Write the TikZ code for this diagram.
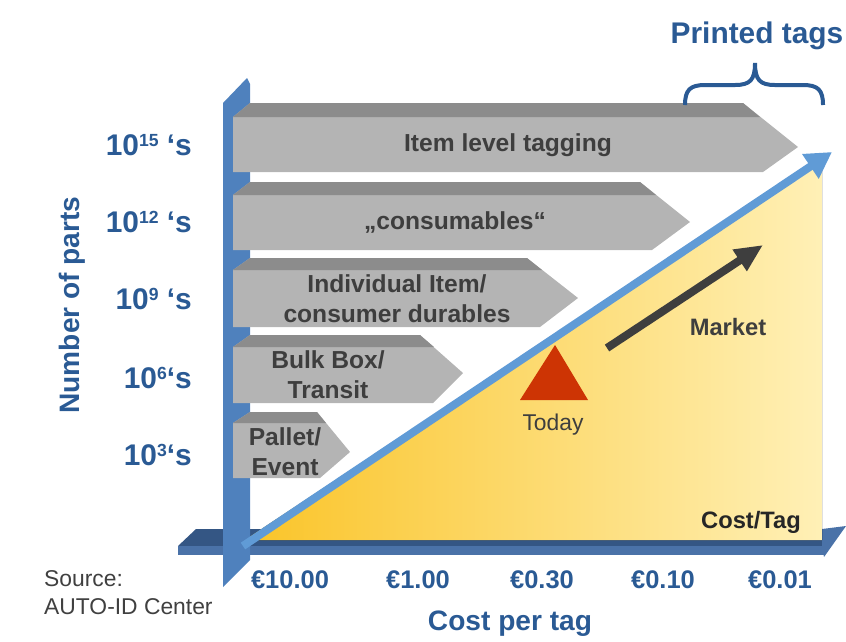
\documentclass[tikz,border=0pt]{standalone}
\usepackage{fontspec}
\setmainfont{Liberation Sans}
\usepackage{tikz}
\usetikzlibrary{arrows.meta}
\definecolor{axisblue}{RGB}{79,129,189}
\definecolor{axistop}{RGB}{52,86,132}
\definecolor{axisfront}{RGB}{74,114,168}
\definecolor{trendblue}{RGB}{96,155,214}
\definecolor{labelblue}{RGB}{42,90,148}
\definecolor{barface}{RGB}{180,180,180}
\definecolor{bartop}{RGB}{140,140,140}
\definecolor{bartext}{RGB}{62,62,62}
\definecolor{costlow}{RGB}{250,196,40}
\definecolor{costhigh}{RGB}{255,240,182}
\definecolor{todayred}{RGB}{205,52,4}
% small raised exponent
\newcommand{\pexp}[1]{\raisebox{5.2pt}{\fontsize{10}{10}\selectfont #1}}

\begin{document}
\begin{tikzpicture}[x=0.2mm, y=-0.2mm,
    barlabel/.style={font=\fontsize{14}{17}\selectfont\bfseries, text=bartext, align=center},
    partlabel/.style={font=\fontsize{17}{20}\selectfont\bfseries, text=labelblue, anchor=east},
    costlabel/.style={font=\fontsize{14.5}{17}\selectfont\bfseries, text=labelblue},
    axistitle/.style={font=\fontsize{16}{19}\selectfont\bfseries, text=labelblue}]
    \useasboundingbox (0,0) rectangle (846,641);
    % cost axis
    \fill[axistop] (178,546) -- (196,529) -- (826,529) -- (826,546) -- cycle;
    \fill[axisfront] (178,546) rectangle (824,555);
    \fill[axisfront] (822,529) -- (846,526) -- (824,557) -- (822,546) -- cycle;
    % cost area
    \fill[left color=costlow, right color=costhigh] (245,540) -- (822,540) -- (822,158) -- cycle;
    % parts axis
    \fill[axisblue] (223,587) -- (223,103) -- (247,78) -- (250,84) -- (250,560) -- cycle;
    % trend
    \coordinate (trendfrom) at (243,546);
    \coordinate (trendto) at (832,152);
    \draw[trendblue, line width=1.6mm, -{Triangle[length=5.2mm,width=5.6mm]}] (trendfrom) -- (trendto);
    % application bars
    \foreach \ya/\yb/\yc/\xb/\xc/\xt/\yt/\xr in {
        103/117/172/743/760/798/147/763,
        182/195/250/640/656/690/222/652,
        258/270/327/527/542/578/298/540,
        335/347/403/420/434/463/373/433,
        412/423/478/317/326/350/452/320} {
      \fill[barface] (233,\yb) -- (250,\ya) -- (\xb,\ya) -- (\xt,\yt) -- (\xr,\yc) -- (233,\yc) -- cycle;
      \fill[bartop] (233,\yb) -- (250,\ya) -- (\xb,\ya) -- (\xc,\yb) -- cycle;
    }
    \node[barlabel] (item) at (508,145) {Item level tagging};
    \node[barlabel] (consum) at (455,222) {„consumables“};
    \node[barlabel] (durables) at (397,299) {Individual Item/\\consumer durables};
    \node[barlabel] (bulk) at (328,375) {Bulk Box/\\Transit};
    \node[barlabel] (pallet) at (285,452) {Pallet/\\Event};
    % number of parts
    \foreach \lbl/\yy/\nm in {{10\pexp{15} ‘s}/145/p15, {10\pexp{12} ‘s}/222/p12,
        {10\pexp{9} ‘s}/299/p9, {10\pexp{6}‘s}/378/p6, {10\pexp{3}‘s}/455/p3} {
      \node[partlabel] (\nm) at (198,\yy) {\lbl};
    }
    \node[axistitle, rotate=90] (parts) at (72,305) {Number of parts};
    % cost per tag
    \foreach \lbl/\xx/\nm in {€10.00/290/c1000, €1.00/418/c100, €0.30/542/c030,
        €0.10/663/c010, €0.01/780/c001} {
      \node[costlabel] (\nm) at (\xx,580) {\lbl};
    }
    \node[axistitle] (costtitle) at (510,624) {Cost per tag};
    \node[font=\fontsize{13.5}{16}\selectfont\bfseries, text=black!85] (costtag) at (751,522) {Cost/Tag};
    % today and market
    \fill[todayred] (520,400) -- (588,400) -- (555,345) -- cycle;
    \node[font=\fontsize{13}{16}\selectfont, text=bartext] (today) at (553,425) {Today};
    \coordinate (marketfrom) at (607,348);
    \coordinate (marketto) at (763,245);
    \draw[bartext, line width=1.6mm, -{Triangle[length=5.6mm,width=4.8mm]}] (marketfrom) -- (marketto);
    \node[font=\fontsize{13.5}{16}\selectfont\bfseries, text=bartext] (market) at (728,327) {Market};
    % printed tags
    \draw[labelblue, line width=0.8mm] (685,105) .. controls (685,90) and (690,85) .. (705,85)
      -- (735,85) .. controls (750,85) and (755,80) .. (755,63)
      .. controls (755,80) and (760,85) .. (775,85) -- (803,85)
      .. controls (818,85) and (823,90) .. (823,105);
    \node[axistitle, font=\fontsize{17}{20}\selectfont\bfseries] (printed) at (757,36) {Printed tags};
    % source
    \node[anchor=west, align=left, font=\fontsize{13}{16}\selectfont, text=black!75] (source) at (38,593) {Source:\\AUTO-ID Center};
\end{tikzpicture}
\end{document}
